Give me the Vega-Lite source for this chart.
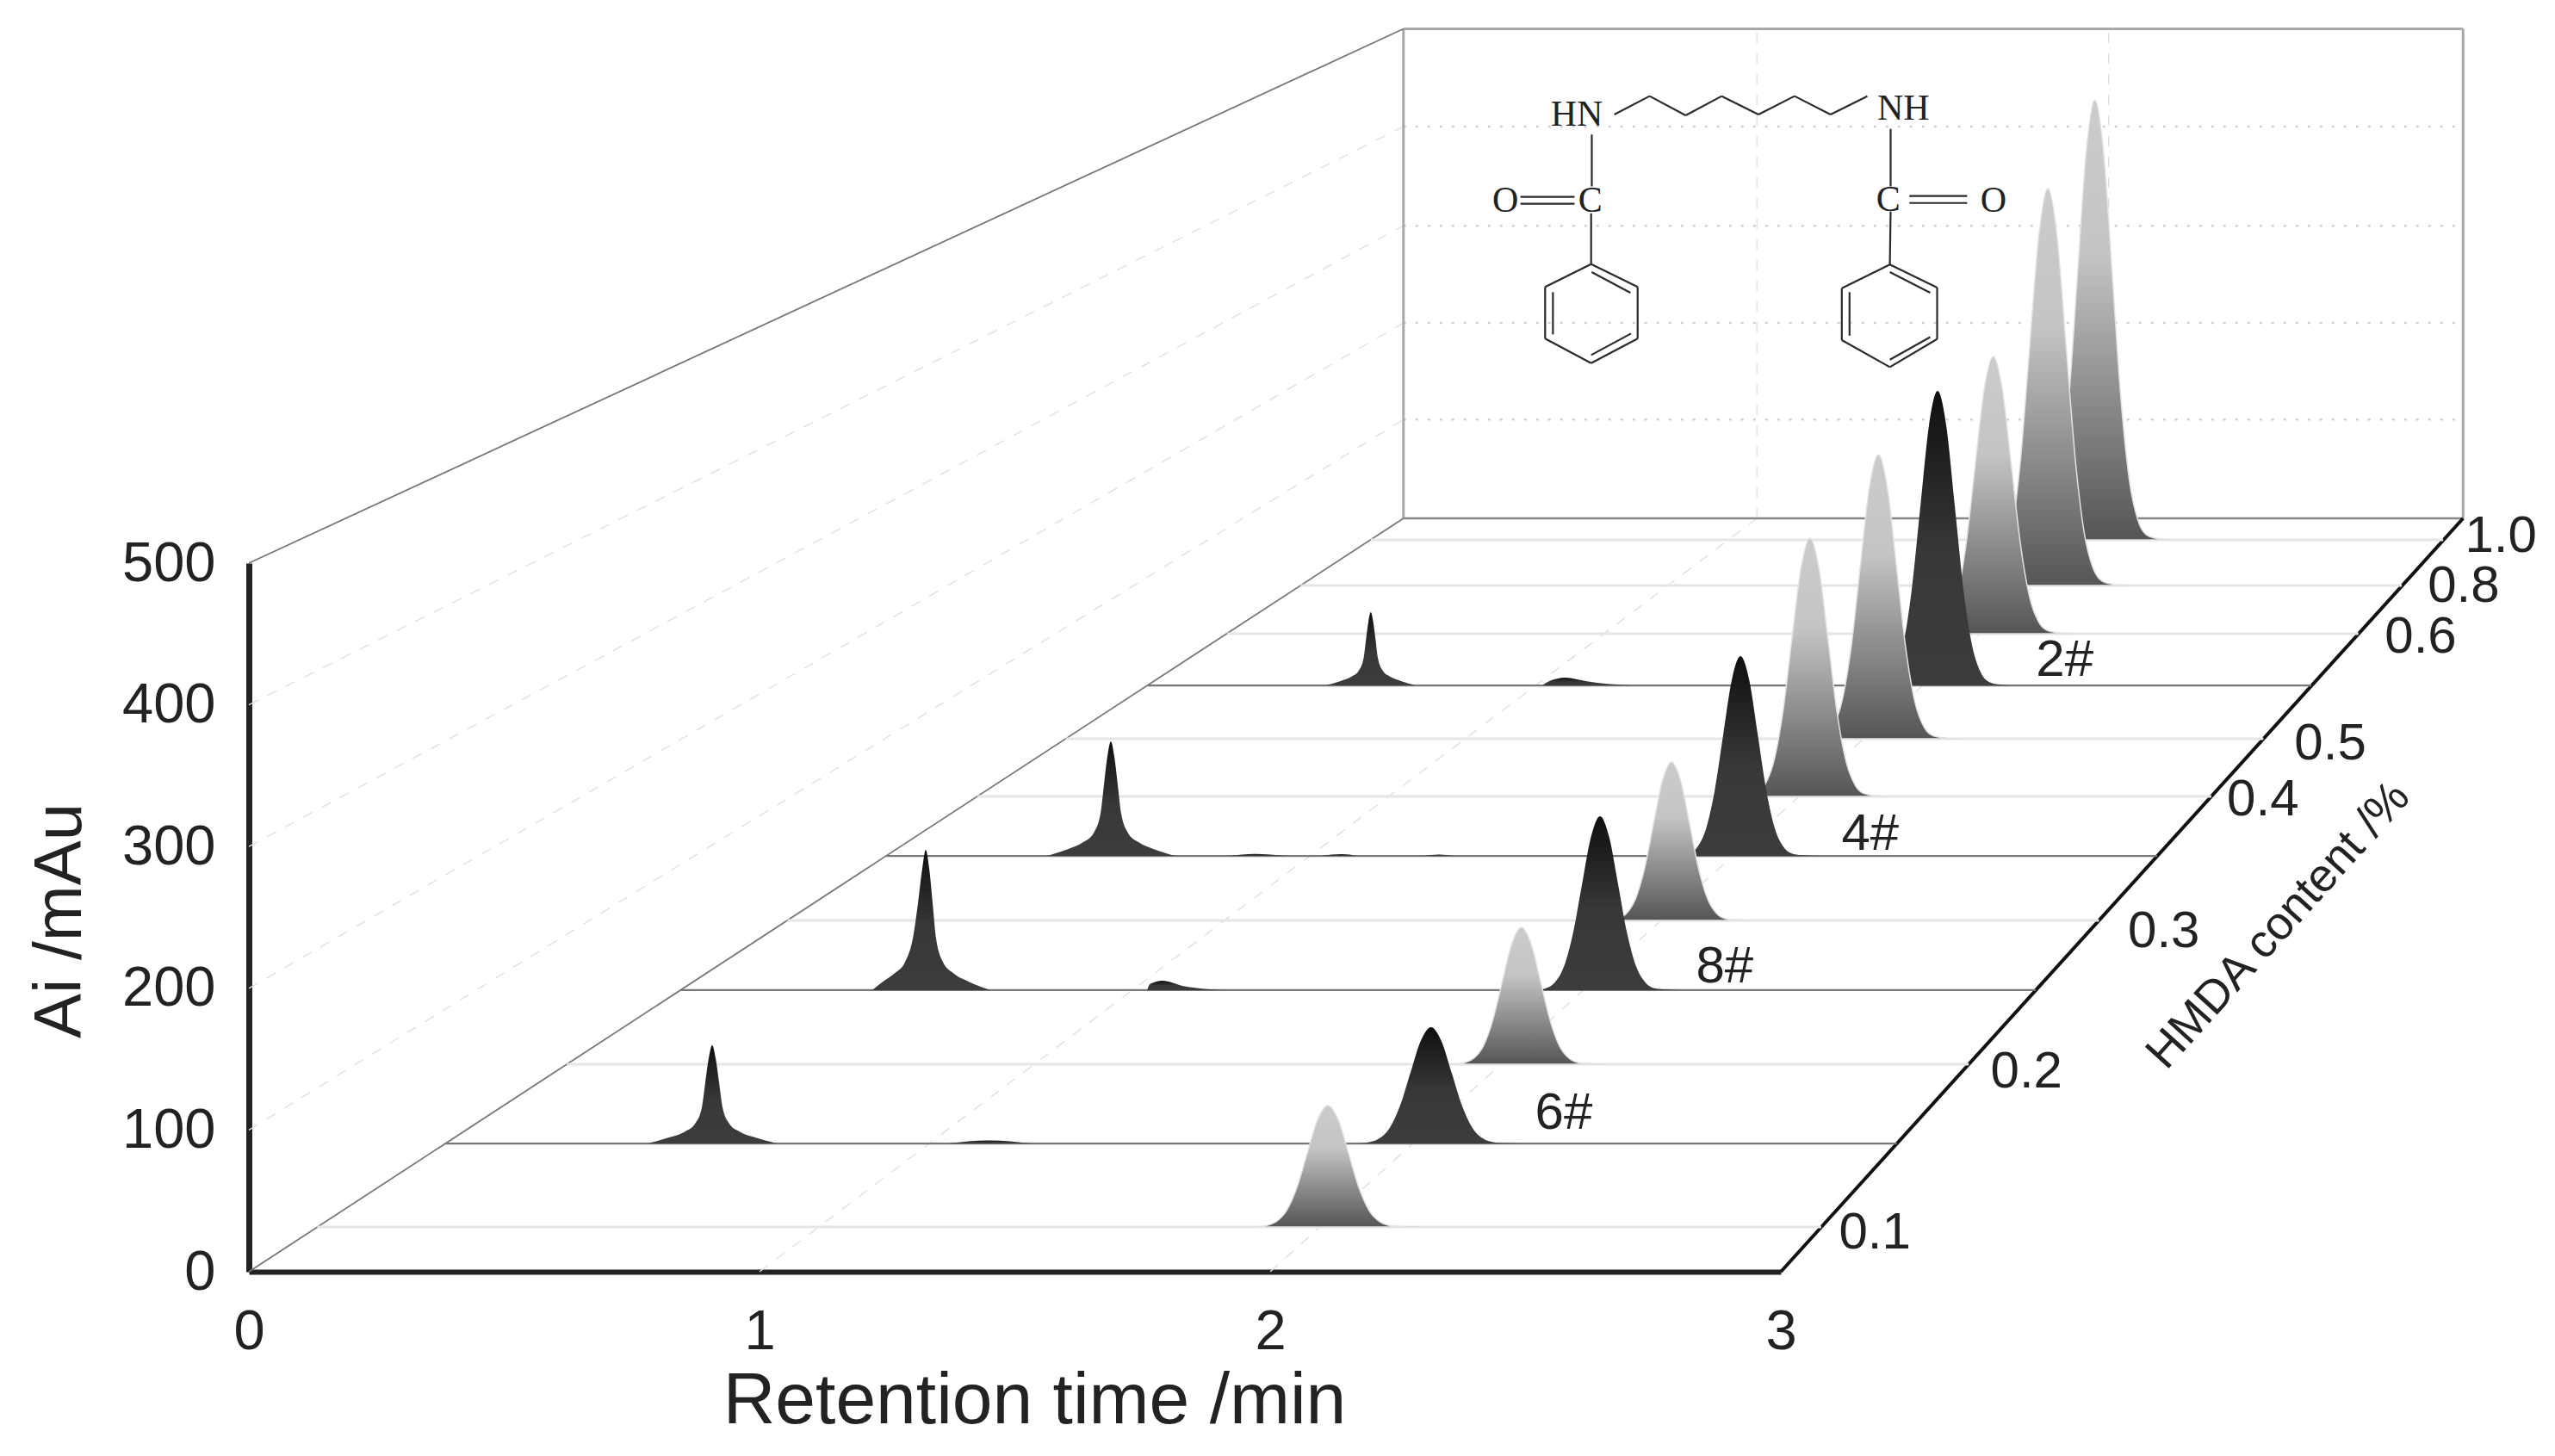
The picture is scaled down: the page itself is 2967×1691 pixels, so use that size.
{"$schema":"https://vega.github.io/schema/vega-lite/v6.json","background":"white","autosize":"none","padding":{"left":289,"top":654,"right":899,"bottom":214},"width":1779,"height":823,"config":{"view":{"stroke":null}},
"datasets":{
"walls":[{"t0":2.261,"a0":531.6,"t1":2.261,"a1":877},{"t0":2.261,"a0":877,"t1":4.336,"a1":877},{"t0":4.336,"a0":531.6,"t1":4.336,"a1":877}],
"floorBack":[{"t0":2.261,"a0":531.6,"t1":4.336,"a1":531.6}],
"thin":[{"t0":0,"a0":0,"t1":2.261,"a1":531.6},{"t0":0,"a0":500,"t1":2.261,"a1":877}],
"rightEdge":[{"t0":3,"a0":0,"t1":4.336,"a1":531.6}],
"dashed":[{"t0":0,"a0":100,"t1":2.261,"a1":601.3},{"t0":0,"a0":200,"t1":2.261,"a1":669.5},{"t0":0,"a0":300,"t1":2.261,"a1":738},{"t0":0,"a0":400,"t1":2.261,"a1":808},{"t0":1,"a0":0,"t1":2.953,"a1":531.6},{"t0":2,"a0":0,"t1":3.642,"a1":531.6},{"t0":2.953,"a0":531.6,"t1":2.953,"a1":877},{"t0":3.642,"a0":531.6,"t1":3.642,"a1":877}],
"dotted":[{"t0":2.261,"a0":601.3,"t1":4.336,"a1":601.3},{"t0":2.261,"a0":669.5,"t1":4.336,"a1":669.5},{"t0":2.261,"a0":738,"t1":4.336,"a1":738},{"t0":2.261,"a0":808,"t1":4.336,"a1":808}],
"baseLight":[{"t0":2.197,"t1":4.297,"a":516.4},{"t0":2.06,"t1":4.216,"a":484.2},{"t0":1.916,"t1":4.131,"a":450.2},{"t0":1.6,"t1":3.945,"a":376.1},{"t0":1.427,"t1":3.843,"a":335.4},{"t0":1.055,"t1":3.623,"a":247.9},{"t0":0.623,"t1":3.368,"a":146.4},{"t0":0.134,"t1":3.079,"a":31.6}],
"baseDark":[{"t0":1.76,"t1":4.039,"a":413.7},{"t0":1.248,"t1":3.737,"a":293.4},{"t0":0.845,"t1":3.499,"a":198.7},{"t0":0.385,"t1":3.227,"a":90.5}],
"molecule":[{"t0":2.6739,"a0":816.5,"t1":2.743,"a1":829.5},{"t0":2.743,"a0":829.5,"t1":2.8136,"a1":815.9},{"t0":2.8136,"a0":815.9,"t1":2.8842,"a1":829.5},{"t0":2.8842,"a0":829.5,"t1":2.9562,"a1":816.5},{"t0":2.9562,"a0":816.5,"t1":3.0268,"a1":829.5},{"t0":3.0268,"a0":829.5,"t1":3.0973,"a1":816.5},{"t0":3.0973,"a0":816.5,"t1":3.1694,"a1":829.5},{"t0":2.6298,"a0":802.4,"t1":2.6298,"a1":765.8},{"t0":2.4901,"a0":758.4,"t1":2.596,"a1":758.4},{"t0":2.4901,"a0":753.6,"t1":2.596,"a1":753.6},{"t0":2.6285,"a0":746.8,"t1":2.6285,"a1":711},{"t0":2.6285,"a0":711,"t1":2.7196,"a1":694.8},{"t0":2.7196,"a0":694.8,"t1":2.7196,"a1":658.4},{"t0":2.7196,"a0":658.4,"t1":2.6285,"a1":641.1},{"t0":2.6285,"a0":641.1,"t1":2.5384,"a1":658.4},{"t0":2.5384,"a0":658.4,"t1":2.5384,"a1":694.8},{"t0":2.5384,"a0":694.8,"t1":2.6285,"a1":711},{"t0":2.6295,"a0":705.3,"t1":2.7054,"a1":690.8},{"t0":2.5537,"a0":691.2,"t1":2.5537,"a1":661.4},{"t0":2.6285,"a0":646.8,"t1":2.7066,"a1":662},{"t0":3.215,"a0":806.4,"t1":3.215,"a1":765.8},{"t0":3.2517,"a0":759,"t1":3.3649,"a1":759},{"t0":3.2517,"a0":754.1,"t1":3.3649,"a1":754.1},{"t0":3.215,"a0":748.1,"t1":3.2135,"a1":710.7},{"t0":3.2135,"a0":710.7,"t1":3.3061,"a1":694.4},{"t0":3.3061,"a0":694.4,"t1":3.3061,"a1":658.1},{"t0":3.3061,"a0":658.1,"t1":3.2135,"a1":638.3},{"t0":3.2135,"a0":638.3,"t1":3.1194,"a1":657.3},{"t0":3.1194,"a0":657.3,"t1":3.1194,"a1":693.9},{"t0":3.1194,"a0":693.9,"t1":3.2135,"a1":710.7},{"t0":3.2135,"a0":705.3,"t1":3.2925,"a1":690.8},{"t0":3.1345,"a0":691.2,"t1":3.1345,"a1":660.5},{"t0":3.2135,"a0":643.5,"t1":3.2925,"a1":659.5}],
"moleculeText":[{"t":2.6004,"ai":816.5,"label":"HN"},{"t":3.2399,"ai":820.8,"label":"NH"},{"t":2.6269,"ai":755.7,"label":"C"},{"t":2.4607,"ai":755.7,"label":"O"},{"t":3.2105,"ai":756.3,"label":"C"},{"t":3.4164,"ai":755.7,"label":"O"}],
"depthLabels":[{"t":3.184,"ai":27.3,"label":"0.1"},{"t":3.481,"ai":140.9,"label":"0.2"},{"t":3.75,"ai":240,"label":"0.3"},{"t":3.944,"ai":332.9,"label":"0.4"},{"t":4.076,"ai":372.4,"label":"0.5"},{"t":4.253,"ai":447.8,"label":"0.6"},{"t":4.337,"ai":483.6,"label":"0.8"},{"t":4.41,"ai":519,"label":"1.0"},{"t":3.556,"ai":431.3,"label":"2#"},{"t":3.175,"ai":308.6,"label":"4#"},{"t":2.89,"ai":215.1,"label":"8#"},{"t":2.575,"ai":111.8,"label":"6#"}],
"depthTitle":[{"t":3.975,"ai":244.2,"label":"HMDA content /%"}],
"c10":[{"t":3.4967,"ai":516.4},{"t":3.5136,"ai":519.8},{"t":3.5305,"ai":530.1},{"t":3.5474,"ai":558.3},{"t":3.5643,"ai":617.3},{"t":3.5812,"ai":704.9},{"t":3.5981,"ai":790.3},{"t":3.615,"ai":826.9},{"t":3.6319,"ai":790.3},{"t":3.6488,"ai":704.9},{"t":3.6657,"ai":617.3},{"t":3.6826,"ai":558.3},{"t":3.6995,"ai":530.1},{"t":3.7164,"ai":519.8},{"t":3.7333,"ai":517.6},{"t":3.7671,"ai":516.4}],
"c08":[{"t":3.3991,"ai":484.2},{"t":3.4168,"ai":487.3},{"t":3.4345,"ai":496.5},{"t":3.4522,"ai":522},{"t":3.4699,"ai":575.2},{"t":3.4876,"ai":654.2},{"t":3.5053,"ai":731.2},{"t":3.523,"ai":764.3},{"t":3.5407,"ai":731.2},{"t":3.5584,"ai":654.2},{"t":3.5761,"ai":575.2},{"t":3.5938,"ai":522},{"t":3.6115,"ai":496.5},{"t":3.6292,"ai":487.3},{"t":3.6469,"ai":485.3},{"t":3.6823,"ai":484.2}],
"c06":[{"t":3.2921,"ai":450.2},{"t":3.3098,"ai":452.4},{"t":3.3275,"ai":458.8},{"t":3.3452,"ai":476.6},{"t":3.3629,"ai":513.8},{"t":3.3806,"ai":568.9},{"t":3.3983,"ai":622.7},{"t":3.416,"ai":645.8},{"t":3.4337,"ai":622.7},{"t":3.4514,"ai":568.9},{"t":3.4691,"ai":513.8},{"t":3.4868,"ai":476.6},{"t":3.5045,"ai":458.8},{"t":3.5222,"ai":452.4},{"t":3.5399,"ai":451},{"t":3.5753,"ai":450.2}],
"s2":[{"peak":"a","t":2.1085,"ai":413.7},{"peak":"a","t":2.138,"ai":416.8},{"peak":"a","t":2.1592,"ai":419.9},{"peak":"a","t":2.1734,"ai":424},{"peak":"a","t":2.1829,"ai":432.8},{"peak":"a","t":2.1875,"ai":445.7},{"peak":"a","t":2.1923,"ai":458.6},{"peak":"a","t":2.197,"ai":465.3},{"peak":"a","t":2.2017,"ai":458.6},{"peak":"a","t":2.2065,"ai":445.7},{"peak":"a","t":2.2111,"ai":432.8},{"peak":"a","t":2.2206,"ai":424},{"peak":"a","t":2.2348,"ai":419.9},{"peak":"a","t":2.256,"ai":416.8},{"peak":"a","t":2.2855,"ai":413.7},
{"peak":"b","t":2.533,"ai":413.7},{"peak":"b","t":2.545,"ai":416.4},{"peak":"b","t":2.578,"ai":419.2},{"peak":"b","t":2.62,"ai":416.6},{"peak":"b","t":2.66,"ai":414.8},{"peak":"b","t":2.71,"ai":413.7},
{"peak":"c","t":3.1887,"ai":413.7},{"peak":"c","t":3.2056,"ai":416},{"peak":"c","t":3.2225,"ai":422.8},{"peak":"c","t":3.2394,"ai":441.8},{"peak":"c","t":3.2563,"ai":481.2},{"peak":"c","t":3.2732,"ai":539.8},{"peak":"c","t":3.2901,"ai":597},{"peak":"c","t":3.307,"ai":621.5},{"peak":"c","t":3.3239,"ai":597},{"peak":"c","t":3.3408,"ai":539.8},{"peak":"c","t":3.3577,"ai":481.2},{"peak":"c","t":3.3746,"ai":441.8},{"peak":"c","t":3.3915,"ai":422.8},{"peak":"c","t":3.4084,"ai":416},{"peak":"c","t":3.4253,"ai":414.5},{"peak":"c","t":3.4591,"ai":413.7}],
"c05":[{"t":3.0671,"ai":376.1},{"t":3.0848,"ai":378.3},{"t":3.1025,"ai":384.9},{"t":3.1202,"ai":403.2},{"t":3.1379,"ai":441.3},{"t":3.1556,"ai":497.8},{"t":3.1733,"ai":553},{"t":3.191,"ai":576.6},{"t":3.2087,"ai":553},{"t":3.2264,"ai":497.8},{"t":3.2441,"ai":441.3},{"t":3.2618,"ai":403.2},{"t":3.2795,"ai":384.9},{"t":3.2972,"ai":378.3},{"t":3.3149,"ai":376.9},{"t":3.3503,"ai":376.1}],
"c04":[{"t":2.9331,"ai":335.4},{"t":2.9508,"ai":337.4},{"t":2.9685,"ai":343.4},{"t":2.9862,"ai":360},{"t":3.0039,"ai":394.6},{"t":3.0216,"ai":446},{"t":3.0393,"ai":496.1},{"t":3.057,"ai":517.6},{"t":3.0747,"ai":496.1},{"t":3.0924,"ai":446},{"t":3.1101,"ai":394.6},{"t":3.1278,"ai":360},{"t":3.1455,"ai":343.4},{"t":3.1632,"ai":337.4},{"t":3.1809,"ai":336.1},{"t":3.2163,"ai":335.4}],
"s4":[{"peak":"a","t":1.5615,"ai":293.4},{"peak":"a","t":1.6037,"ai":298.2},{"peak":"a","t":1.634,"ai":303.1},{"peak":"a","t":1.6543,"ai":309.6},{"peak":"a","t":1.6678,"ai":323.3},{"peak":"a","t":1.6745,"ai":343.5},{"peak":"a","t":1.6813,"ai":363.7},{"peak":"a","t":1.688,"ai":374.2},{"peak":"a","t":1.6947,"ai":363.7},{"peak":"a","t":1.7015,"ai":343.5},{"peak":"a","t":1.7082,"ai":323.3},{"peak":"a","t":1.7217,"ai":309.6},{"peak":"a","t":1.742,"ai":303.1},{"peak":"a","t":1.7723,"ai":298.2},{"peak":"a","t":1.8145,"ai":293.4},
{"peak":"b","t":1.92,"ai":293.4},{"peak":"b","t":1.97,"ai":294.8},{"peak":"b","t":2.03,"ai":293.4},
{"peak":"d","t":2.1,"ai":293.4},{"peak":"d","t":2.14,"ai":294.6},{"peak":"d","t":2.17,"ai":293.4},
{"peak":"e","t":2.3,"ai":293.4},{"peak":"e","t":2.33,"ai":294.4},{"peak":"e","t":2.36,"ai":293.4},
{"peak":"c","t":2.8027,"ai":293.4},{"peak":"c","t":2.8196,"ai":295},{"peak":"c","t":2.8365,"ai":299.6},{"peak":"c","t":2.8534,"ai":312.4},{"peak":"c","t":2.8703,"ai":339.2},{"peak":"c","t":2.8872,"ai":379},{"peak":"c","t":2.9041,"ai":417.8},{"peak":"c","t":2.921,"ai":434.4},{"peak":"c","t":2.9379,"ai":417.8},{"peak":"c","t":2.9548,"ai":379},{"peak":"c","t":2.9717,"ai":339.2},{"peak":"c","t":2.9886,"ai":312.4},{"peak":"c","t":3.0055,"ai":299.6},{"peak":"c","t":3.0224,"ai":295},{"peak":"c","t":3.0393,"ai":294},{"peak":"c","t":3.0731,"ai":293.4}],
"c03":[{"t":2.6621,"ai":247.9},{"t":2.6798,"ai":249.1},{"t":2.6975,"ai":252.8},{"t":2.7152,"ai":263},{"t":2.7329,"ai":284.2},{"t":2.7506,"ai":315.8},{"t":2.7683,"ai":346.5},{"t":2.786,"ai":359.7},{"t":2.8037,"ai":346.5},{"t":2.8214,"ai":315.8},{"t":2.8391,"ai":284.2},{"t":2.8568,"ai":263},{"t":2.8745,"ai":252.8},{"t":2.8922,"ai":249.1},{"t":2.9099,"ai":248.3},{"t":2.9453,"ai":247.9}],
"s8":[{"peak":"a","t":1.221,"ai":198.7},{"peak":"a","t":1.2412,"ai":204.6},{"peak":"a","t":1.2648,"ai":210.6},{"peak":"a","t":1.285,"ai":218.5},{"peak":"a","t":1.3002,"ai":235.3},{"peak":"a","t":1.3103,"ai":260.1},{"peak":"a","t":1.3188,"ai":284.8},{"peak":"a","t":1.3255,"ai":297.7},{"peak":"a","t":1.3322,"ai":284.8},{"peak":"a","t":1.339,"ai":260.1},{"peak":"a","t":1.3457,"ai":235.3},{"peak":"a","t":1.3592,"ai":218.5},{"peak":"a","t":1.3795,"ai":210.6},{"peak":"a","t":1.4098,"ai":204.6},{"peak":"a","t":1.452,"ai":198.7},
{"peak":"b","t":1.759,"ai":198.7},{"peak":"b","t":1.765,"ai":203},{"peak":"b","t":1.789,"ai":205.3},{"peak":"b","t":1.83,"ai":201.5},{"peak":"b","t":1.87,"ai":199.6},{"peak":"b","t":1.914,"ai":198.7},
{"peak":"c","t":2.5221,"ai":198.7},{"peak":"c","t":2.5398,"ai":200},{"peak":"c","t":2.5575,"ai":204.1},{"peak":"c","t":2.5752,"ai":215.3},{"peak":"c","t":2.5929,"ai":238.6},{"peak":"c","t":2.6106,"ai":273.2},{"peak":"c","t":2.6283,"ai":306.9},{"peak":"c","t":2.646,"ai":321.4},{"peak":"c","t":2.6637,"ai":306.9},{"peak":"c","t":2.6814,"ai":273.2},{"peak":"c","t":2.6991,"ai":238.6},{"peak":"c","t":2.7168,"ai":215.3},{"peak":"c","t":2.7345,"ai":204.1},{"peak":"c","t":2.7522,"ai":200},{"peak":"c","t":2.7699,"ai":199.2},{"peak":"c","t":2.8053,"ai":198.7}],
"c02":[{"t":2.3618,"ai":146.4},{"t":2.3804,"ai":147.5},{"t":2.399,"ai":150.7},{"t":2.4176,"ai":159.4},{"t":2.4362,"ai":177.8},{"t":2.4548,"ai":205},{"t":2.4734,"ai":231.6},{"t":2.492,"ai":243},{"t":2.5106,"ai":231.6},{"t":2.5292,"ai":205},{"t":2.5478,"ai":177.8},{"t":2.5664,"ai":159.4},{"t":2.585,"ai":150.7},{"t":2.6036,"ai":147.5},{"t":2.6222,"ai":146.8},{"t":2.6594,"ai":146.4}],
"s6":[{"peak":"a","t":0.7808,"ai":90.5},{"peak":"a","t":0.823,"ai":94.7},{"peak":"a","t":0.8533,"ai":98.8},{"peak":"a","t":0.8736,"ai":104.4},{"peak":"a","t":0.8871,"ai":116.1},{"peak":"a","t":0.8938,"ai":133.5},{"peak":"a","t":0.9006,"ai":150.8},{"peak":"a","t":0.9073,"ai":159.8},{"peak":"a","t":0.914,"ai":150.8},{"peak":"a","t":0.9208,"ai":133.5},{"peak":"a","t":0.9275,"ai":116.1},{"peak":"a","t":0.941,"ai":104.4},{"peak":"a","t":0.9613,"ai":98.8},{"peak":"a","t":0.9916,"ai":94.7},{"peak":"a","t":1.0338,"ai":90.5},
{"peak":"b","t":1.369,"ai":90.5},{"peak":"b","t":1.45,"ai":92.6},{"peak":"b","t":1.531,"ai":90.5},
{"peak":"c","t":2.1736,"ai":90.5},{"peak":"c","t":2.1938,"ai":91.4},{"peak":"c","t":2.214,"ai":94.1},{"peak":"c","t":2.2342,"ai":101.6},{"peak":"c","t":2.2544,"ai":117.2},{"peak":"c","t":2.2746,"ai":140.3},{"peak":"c","t":2.2948,"ai":162.8},{"peak":"c","t":2.315,"ai":172.5},{"peak":"c","t":2.3352,"ai":162.8},{"peak":"c","t":2.3554,"ai":140.3},{"peak":"c","t":2.3756,"ai":117.2},{"peak":"c","t":2.3958,"ai":101.6},{"peak":"c","t":2.416,"ai":94.1},{"peak":"c","t":2.4362,"ai":91.4},{"peak":"c","t":2.4564,"ai":90.8},{"peak":"c","t":2.4968,"ai":90.5}],
"c01":[{"t":1.9716,"ai":31.6},{"t":1.9918,"ai":32.5},{"t":2.012,"ai":35.4},{"t":2.0322,"ai":43.2},{"t":2.0524,"ai":59.5},{"t":2.0726,"ai":83.6},{"t":2.0928,"ai":107.2},{"t":2.113,"ai":117.3},{"t":2.1332,"ai":107.2},{"t":2.1534,"ai":83.6},{"t":2.1736,"ai":59.5},{"t":2.1938,"ai":43.2},{"t":2.214,"ai":35.4},{"t":2.2342,"ai":32.5},{"t":2.2544,"ai":31.9},{"t":2.2948,"ai":31.6}]
},
"layer":[
{"data":{"name":"dashed"},"mark":{"type":"rule","color":"#e0e0e0","strokeWidth":1.4,"strokeDash":[12,12]},"encoding":{"x":{"field":"t0","type":"quantitative","scale":{"domain":[0,3],"nice":false,"zero":false},"axis":{"values":[0,1,2,3],"format":"d","title":"Retention time /min","grid":false,"ticks":false,"domainColor":"#222222","domainWidth":6,"labelFont":"Liberation Sans","labelFontSize":65,"labelColor":"#222222","labelPadding":38,"labelOverlap":false,"labelFlush":false,"titleFont":"Liberation Sans","titleFontSize":84,"titleFontWeight":"normal","titleColor":"#222222","titleX":912,"titleY":150,"titleBaseline":"middle","titleAlign":"center"}},"x2":{"field":"t1"},"y":{"field":"a0","type":"quantitative","scale":{"domain":[0,500],"nice":false,"zero":false},"axis":{"values":[0,100,200,300,400,500],"title":"Ai /mAu","grid":false,"ticks":false,"domainColor":"#222222","domainWidth":7,"labelFont":"Liberation Sans","labelFontSize":65,"labelColor":"#222222","labelPadding":39,"labelOverlap":false,"labelFlush":false,"titleFont":"Liberation Sans","titleFontSize":78,"titleFontWeight":"normal","titleColor":"#222222","titleX":-219,"titleY":415,"titleBaseline":"middle","titleAlign":"center"}},"y2":{"field":"a1"}}},
{"data":{"name":"dotted"},"mark":{"type":"rule","color":"#cfcfcf","strokeWidth":2.4,"strokeDash":[3,11]},"encoding":{"x":{"field":"t0","type":"quantitative"},"x2":{"field":"t1"},"y":{"field":"a0","type":"quantitative"}}},
{"data":{"name":"walls"},"mark":{"type":"rule","color":"#a8a8a8","strokeWidth":3},"encoding":{"x":{"field":"t0","type":"quantitative"},"x2":{"field":"t1"},"y":{"field":"a0","type":"quantitative"},"y2":{"field":"a1"}}},
{"data":{"name":"floorBack"},"mark":{"type":"rule","color":"#888888","strokeWidth":2.6},"encoding":{"x":{"field":"t0","type":"quantitative"},"x2":{"field":"t1"},"y":{"field":"a0","type":"quantitative"}}},
{"data":{"name":"thin"},"mark":{"type":"rule","color":"#777777","strokeWidth":1.8},"encoding":{"x":{"field":"t0","type":"quantitative"},"x2":{"field":"t1"},"y":{"field":"a0","type":"quantitative"},"y2":{"field":"a1"}}},
{"data":{"name":"rightEdge"},"mark":{"type":"rule","color":"#111111","strokeWidth":4},"encoding":{"x":{"field":"t0","type":"quantitative"},"x2":{"field":"t1"},"y":{"field":"a0","type":"quantitative"},"y2":{"field":"a1"}}},
{"data":{"name":"baseLight"},"mark":{"type":"rule","color":"#e6e6e6","strokeWidth":3},"encoding":{"x":{"field":"t0","type":"quantitative"},"x2":{"field":"t1"},"y":{"field":"a","type":"quantitative"}}},
{"data":{"name":"baseDark"},"mark":{"type":"rule","color":"#777777","strokeWidth":2.2},"encoding":{"x":{"field":"t0","type":"quantitative"},"x2":{"field":"t1"},"y":{"field":"a","type":"quantitative"}}},
{"data":{"name":"molecule"},"mark":{"type":"rule","color":"#2a2a2a","strokeWidth":2.2},"encoding":{"x":{"field":"t0","type":"quantitative"},"x2":{"field":"t1"},"y":{"field":"a0","type":"quantitative"},"y2":{"field":"a1"}}},
{"data":{"name":"moleculeText"},"mark":{"type":"text","font":"Liberation Serif","fontSize":42,"color":"#222222","align":"center","baseline":"middle"},"encoding":{"x":{"field":"t","type":"quantitative"},"y":{"field":"ai","type":"quantitative"},"text":{"field":"label"}}},
{"data":{"name":"c10"},"mark":{"type":"area","orient":"vertical","interpolate":"monotone","stroke":"#e2e2e2","strokeWidth":1.5,"fill":{"x1":0,"y1":0,"x2":0,"y2":1,"gradient":"linear","stops":[{"offset":0,"color":"#cccccc"},{"offset":0.35,"color":"#c4c4c4"},{"offset":1,"color":"#555555"}]}},"encoding":{"x":{"field":"t","type":"quantitative"},"y":{"field":"ai","type":"quantitative","stack":null},"y2":{"datum":516.4}}},
{"data":{"name":"c08"},"mark":{"type":"area","orient":"vertical","interpolate":"monotone","stroke":"#e2e2e2","strokeWidth":1.5,"fill":{"x1":0,"y1":0,"x2":0,"y2":1,"gradient":"linear","stops":[{"offset":0,"color":"#cccccc"},{"offset":0.35,"color":"#c4c4c4"},{"offset":1,"color":"#555555"}]}},"encoding":{"x":{"field":"t","type":"quantitative"},"y":{"field":"ai","type":"quantitative","stack":null},"y2":{"datum":484.2}}},
{"data":{"name":"c06"},"mark":{"type":"area","orient":"vertical","interpolate":"monotone","stroke":"#e2e2e2","strokeWidth":1.5,"fill":{"x1":0,"y1":0,"x2":0,"y2":1,"gradient":"linear","stops":[{"offset":0,"color":"#cccccc"},{"offset":0.35,"color":"#c4c4c4"},{"offset":1,"color":"#555555"}]}},"encoding":{"x":{"field":"t","type":"quantitative"},"y":{"field":"ai","type":"quantitative","stack":null},"y2":{"datum":450.2}}},
{"data":{"name":"s2"},"mark":{"type":"area","orient":"vertical","interpolate":"monotone","fill":{"x1":0,"y1":0,"x2":0,"y2":1,"gradient":"linear","stops":[{"offset":0,"color":"#0f0f0f"},{"offset":0.55,"color":"#383838"},{"offset":1,"color":"#3c3c3c"}]}},"encoding":{"x":{"field":"t","type":"quantitative"},"y":{"field":"ai","type":"quantitative","stack":null},"y2":{"datum":413.7},"detail":{"field":"peak"}}},
{"data":{"name":"c05"},"mark":{"type":"area","orient":"vertical","interpolate":"monotone","stroke":"#e2e2e2","strokeWidth":1.5,"fill":{"x1":0,"y1":0,"x2":0,"y2":1,"gradient":"linear","stops":[{"offset":0,"color":"#cccccc"},{"offset":0.35,"color":"#c4c4c4"},{"offset":1,"color":"#555555"}]}},"encoding":{"x":{"field":"t","type":"quantitative"},"y":{"field":"ai","type":"quantitative","stack":null},"y2":{"datum":376.1}}},
{"data":{"name":"c04"},"mark":{"type":"area","orient":"vertical","interpolate":"monotone","stroke":"#e2e2e2","strokeWidth":1.5,"fill":{"x1":0,"y1":0,"x2":0,"y2":1,"gradient":"linear","stops":[{"offset":0,"color":"#cccccc"},{"offset":0.35,"color":"#c4c4c4"},{"offset":1,"color":"#555555"}]}},"encoding":{"x":{"field":"t","type":"quantitative"},"y":{"field":"ai","type":"quantitative","stack":null},"y2":{"datum":335.4}}},
{"data":{"name":"s4"},"mark":{"type":"area","orient":"vertical","interpolate":"monotone","fill":{"x1":0,"y1":0,"x2":0,"y2":1,"gradient":"linear","stops":[{"offset":0,"color":"#0f0f0f"},{"offset":0.55,"color":"#383838"},{"offset":1,"color":"#3c3c3c"}]}},"encoding":{"x":{"field":"t","type":"quantitative"},"y":{"field":"ai","type":"quantitative","stack":null},"y2":{"datum":293.4},"detail":{"field":"peak"}}},
{"data":{"name":"c03"},"mark":{"type":"area","orient":"vertical","interpolate":"monotone","stroke":"#e2e2e2","strokeWidth":1.5,"fill":{"x1":0,"y1":0,"x2":0,"y2":1,"gradient":"linear","stops":[{"offset":0,"color":"#cccccc"},{"offset":0.35,"color":"#c4c4c4"},{"offset":1,"color":"#555555"}]}},"encoding":{"x":{"field":"t","type":"quantitative"},"y":{"field":"ai","type":"quantitative","stack":null},"y2":{"datum":247.9}}},
{"data":{"name":"s8"},"mark":{"type":"area","orient":"vertical","interpolate":"monotone","fill":{"x1":0,"y1":0,"x2":0,"y2":1,"gradient":"linear","stops":[{"offset":0,"color":"#0f0f0f"},{"offset":0.55,"color":"#383838"},{"offset":1,"color":"#3c3c3c"}]}},"encoding":{"x":{"field":"t","type":"quantitative"},"y":{"field":"ai","type":"quantitative","stack":null},"y2":{"datum":198.7},"detail":{"field":"peak"}}},
{"data":{"name":"c02"},"mark":{"type":"area","orient":"vertical","interpolate":"monotone","stroke":"#e2e2e2","strokeWidth":1.5,"fill":{"x1":0,"y1":0,"x2":0,"y2":1,"gradient":"linear","stops":[{"offset":0,"color":"#cccccc"},{"offset":0.35,"color":"#c4c4c4"},{"offset":1,"color":"#555555"}]}},"encoding":{"x":{"field":"t","type":"quantitative"},"y":{"field":"ai","type":"quantitative","stack":null},"y2":{"datum":146.4}}},
{"data":{"name":"s6"},"mark":{"type":"area","orient":"vertical","interpolate":"monotone","fill":{"x1":0,"y1":0,"x2":0,"y2":1,"gradient":"linear","stops":[{"offset":0,"color":"#0f0f0f"},{"offset":0.55,"color":"#383838"},{"offset":1,"color":"#3c3c3c"}]}},"encoding":{"x":{"field":"t","type":"quantitative"},"y":{"field":"ai","type":"quantitative","stack":null},"y2":{"datum":90.5},"detail":{"field":"peak"}}},
{"data":{"name":"c01"},"mark":{"type":"area","orient":"vertical","interpolate":"monotone","stroke":"#e2e2e2","strokeWidth":1.5,"fill":{"x1":0,"y1":0,"x2":0,"y2":1,"gradient":"linear","stops":[{"offset":0,"color":"#cccccc"},{"offset":0.35,"color":"#c4c4c4"},{"offset":1,"color":"#555555"}]}},"encoding":{"x":{"field":"t","type":"quantitative"},"y":{"field":"ai","type":"quantitative","stack":null},"y2":{"datum":31.6}}},
{"data":{"name":"depthLabels"},"mark":{"type":"text","font":"Liberation Sans","fontSize":60,"color":"#222222","align":"center","baseline":"middle"},"encoding":{"x":{"field":"t","type":"quantitative"},"y":{"field":"ai","type":"quantitative"},"text":{"field":"label"}}},
{"data":{"name":"depthTitle"},"mark":{"type":"text","font":"Liberation Sans","fontSize":54,"color":"#222222","align":"center","baseline":"middle","angle":312},"encoding":{"x":{"field":"t","type":"quantitative"},"y":{"field":"ai","type":"quantitative"},"text":{"field":"label"}}}
]}
